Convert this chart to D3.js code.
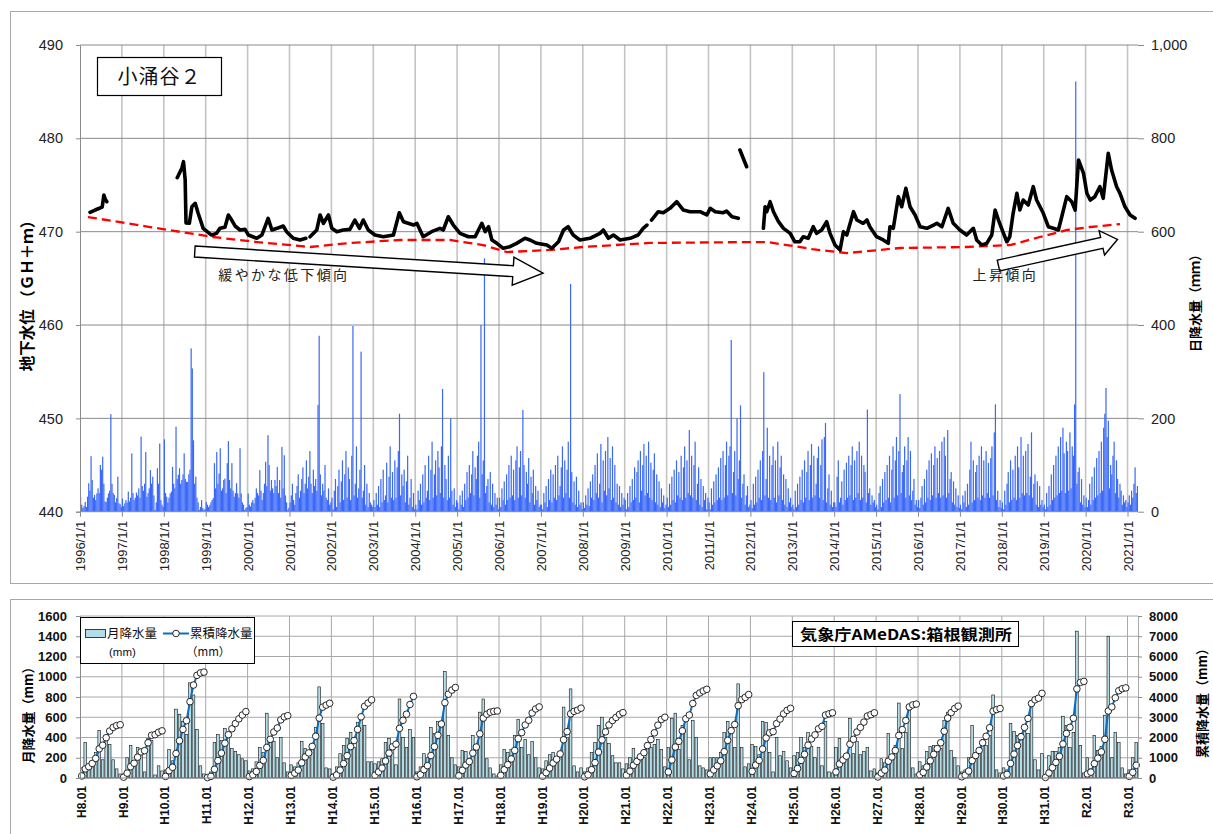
<!DOCTYPE html>
<html lang="ja">
<head>
<meta charset="utf-8">
<script src="https://cdn.jsdelivr.net/npm/d3@7"></script>
<style>
html, body { margin: 0; padding: 0; background: #fff; }
svg { display: block; font-family: "Liberation Sans", Arial, "Noto Sans CJK JP", sans-serif; }
.cjk { font-family: "Noto Sans CJK JP", "Liberation Sans", sans-serif; }
</style>
</head>
<body>
<svg id="chart" width="1213" height="834"></svg>
<script>
// ---------- groundwater level at 小涌谷２ (decimal year, GH+m); null = no record ----------
const groundwaterLevel = [
  [1996.24,472.07],[1996.36,472.32],[1996.48,472.54],[1996.53,472.64],[1996.57,473.93],[1996.60,473.50],[1996.64,473.21],
  [1997.00,null],
  [1998.32,475.78],[1998.43,476.79],[1998.47,477.50],[1998.51,475.54],[1998.53,470.93],[1998.61,470.90],[1998.67,472.67],
  [1998.75,473.04],[1998.82,471.97],[1998.94,470.36],[1999.14,469.64],[1999.26,469.82],[1999.34,470.36],[1999.46,470.47],
  [1999.54,471.79],[1999.62,471.25],[1999.70,470.61],[1999.82,470.18],[1999.94,470.25],[2000.02,469.64],[2000.22,469.29],
  [2000.34,469.64],[2000.49,471.43],[2000.58,470.18],[2000.70,470.36],[2000.85,470.61],[2000.93,470.00],[2001.09,469.29],
  [2001.25,469.11],[2001.39,469.29],
  [2001.44,null],
  [2001.49,469.46],[2001.65,470.18],[2001.73,471.79],[2001.81,470.90],[2001.93,471.79],[2002.01,470.36],[2002.13,470.00],
  [2002.28,470.18],[2002.44,470.25],[2002.56,471.25],[2002.67,470.36],[2002.76,471.25],[2002.88,470.18],[2003.04,469.64],
  [2003.24,469.46],[2003.48,469.64],[2003.62,472.03],[2003.72,471.07],[2003.96,470.71],[2004.04,470.90],[2004.19,469.46],
  [2004.39,470.00],[2004.59,470.36],[2004.67,470.18],[2004.79,471.60],[2004.91,470.71],[2005.07,469.82],[2005.27,469.46],
  [2005.43,469.46],[2005.59,470.90],[2005.67,470.00],[2005.75,470.53],[2005.83,469.11],[2005.95,468.75],[2006.10,468.22],
  [2006.26,468.39],[2006.42,468.75],[2006.62,469.29],[2006.74,469.11],[2006.90,468.75],[2007.14,468.57],[2007.26,468.22],
  [2007.42,468.92],[2007.54,470.18],[2007.65,470.53],[2007.77,469.64],[2007.93,469.11],[2008.17,469.29],[2008.41,469.82],
  [2008.49,470.18],[2008.61,469.29],[2008.73,469.64],[2008.89,469.11],[2009.13,469.29],[2009.32,469.64],[2009.44,470.36],
  [2009.53,470.71],
  [2009.58,null],
  [2009.64,471.25],[2009.80,472.14],[2009.92,472.03],[2010.08,472.50],[2010.24,473.21],[2010.40,472.32],[2010.56,472.14],
  [2010.80,472.14],[2010.96,471.79],[2011.04,472.50],[2011.16,472.14],[2011.35,472.03],[2011.43,472.21],[2011.56,471.60],
  [2011.71,471.43],
  [2011.73,null],
  [2011.75,478.75],[2011.91,476.96],
  [2012.10,null],
  [2012.31,470.36],[2012.35,472.67],[2012.39,472.14],[2012.47,473.21],[2012.55,472.14],[2012.67,471.07],[2012.79,470.36],
  [2012.95,469.82],[2013.06,468.92],[2013.18,468.92],[2013.26,469.46],[2013.38,469.29],[2013.50,470.53],[2013.58,469.82],
  [2013.70,470.18],[2013.82,471.07],[2013.90,469.82],[2014.02,468.57],[2014.14,468.04],[2014.22,470.00],[2014.30,469.64],
  [2014.46,472.14],[2014.54,471.25],[2014.69,470.90],[2014.78,471.25],[2014.85,470.53],[2015.01,469.46],[2015.17,469.11],
  [2015.29,468.75],[2015.33,470.53],[2015.41,470.36],[2015.53,473.75],[2015.61,472.67],[2015.71,474.65],[2015.81,472.67],
  [2015.93,471.79],[2016.05,470.53],[2016.21,470.36],[2016.37,470.71],[2016.45,470.90],[2016.57,470.53],[2016.72,472.50],
  [2016.84,470.90],[2017.00,470.18],[2017.16,469.64],[2017.32,470.36],[2017.40,469.11],[2017.52,468.57],[2017.64,468.75],
  [2017.76,469.64],[2017.84,472.32],[2017.92,471.25],[2018.04,469.82],[2018.12,468.92],[2018.19,469.46],[2018.27,471.97],
  [2018.36,474.11],[2018.43,472.32],[2018.51,473.39],[2018.63,472.86],[2018.75,474.82],[2018.83,473.39],[2018.99,471.97],
  [2019.11,470.53],[2019.23,470.36],[2019.35,470.18],[2019.43,471.60],[2019.55,473.75],[2019.67,473.21],[2019.75,472.32],
  [2019.83,477.68],[2019.95,476.25],[2020.03,474.11],[2020.11,473.39],[2020.22,473.75],[2020.34,474.82],[2020.42,473.57],
  [2020.54,478.40],[2020.62,476.61],[2020.74,474.82],[2020.82,474.11],[2020.94,472.67],[2021.06,471.79],[2021.18,471.43]
];

// ---------- long-term trend of the groundwater level (decimal year, GH+m) ----------
const trendLevel = [
  [1996.19,471.57],[1997.67,470.50],[1999.17,469.43],[2000.22,468.89],[2001.49,468.36],[2002.44,468.79],[2003.64,469.11],
  [2004.83,469.11],[2005.62,468.57],[2006.19,467.82],[2007.22,468.04],[2008.01,468.36],[2009.59,468.79],[2011.99,468.89],
  [2012.40,468.89],[2012.87,468.57],[2013.47,468.14],[2014.07,467.82],[2014.31,467.71],[2015.57,468.25],[2017.17,468.36],
  [2018.20,468.57],[2018.91,469.43],[2019.56,470.18],[2020.11,470.50],[2020.82,470.82]
];

// ---------- daily rainfall, largest day of each ten-day period from 1996 Jan (mm) ----------
const dailyRainStart = 1996;
const dailyRainPerYear = 36;
const dailyRain = [
  32,15,8,12,21,10,32,61,45,119,68,30,36,25,39,50,40,100,90,118,60,22,21,30,39,45,209,60,40,36,20,29,75,18,16,10,
  28,12,18,25,20,43,22,30,125,40,25,30,41,35,50,30,161,55,45,60,128,32,40,50,89,60,75,35,4,20,93,60,146,25,15,10,
  155,40,32,20,30,39,43,96,60,50,182,70,79,93,60,68,80,125,70,64,64,80,90,350,307,153,60,75,30,20,4,10,25,8,4,6,
  21,15,10,14,20,25,29,104,50,128,60,82,136,45,50,68,71,40,104,151,68,50,104,45,32,40,61,39,30,136,39,20,15,4,8,10,
  39,15,11,20,25,18,30,50,40,35,89,45,25,40,60,107,55,164,100,45,68,50,40,68,55,96,40,68,30,139,50,121,35,20,4,8,
  20,35,60,25,15,40,55,80,30,45,70,95,40,60,110,50,75,130,60,40,90,55,70,45,229,377,80,35,60,45,100,30,25,50,15,20,
  30,5,45,70,10,55,90,20,65,110,25,80,130,30,95,70,25,120,398,35,60,140,30,50,90,343,30,45,100,15,60,10,40,20,15,10,
  25,10,40,15,55,10,70,20,90,25,35,105,20,75,140,30,85,25,110,30,95,130,210,35,80,55,90,20,65,120,15,30,70,10,40,5,
  15,5,45,25,60,15,80,20,100,30,45,120,25,90,150,30,80,110,35,130,95,40,140,263,30,100,70,25,120,30,200,45,15,50,10,25,
  20,5,35,15,45,10,60,25,85,30,100,40,80,130,35,95,70,120,150,30,400,80,110,543,40,55,70,20,85,15,60,10,40,15,30,5,
  30,10,50,25,65,15,80,25,100,30,120,35,90,25,110,140,30,95,130,35,218,100,30,85,60,115,20,75,40,90,15,55,25,45,10,15,
  15,5,40,20,55,10,70,25,90,20,80,30,100,25,120,35,55,95,140,30,110,40,90,150,30,488,85,20,65,15,75,10,45,15,20,5,
  20,8,35,15,50,12,65,30,80,25,100,40,125,30,60,145,20,110,45,130,35,160,50,115,25,140,30,100,20,60,15,55,10,40,15,30,
  25,5,40,10,55,20,70,25,95,30,85,110,20,130,45,100,145,35,120,40,150,30,105,25,90,125,20,80,15,65,10,50,20,35,8,15,
  30,10,60,15,75,25,90,20,110,35,85,30,120,25,95,140,30,110,40,175,35,120,30,100,150,25,60,95,15,70,10,55,25,40,5,30,
  20,5,50,15,65,20,80,25,95,30,115,25,130,30,100,150,35,120,140,368,40,85,130,35,200,70,110,228,30,60,80,15,35,55,10,15,
  25,8,60,15,75,20,90,30,110,25,130,299,35,70,180,30,120,25,100,140,30,110,20,150,35,95,120,25,80,15,70,10,50,20,30,10,
  15,5,45,10,60,15,75,25,90,20,110,30,85,130,25,100,145,30,120,35,60,115,140,30,100,155,25,160,190,20,50,80,15,45,10,20,
  20,10,75,110,20,30,65,15,90,25,105,30,120,35,100,140,25,110,30,130,40,150,25,120,30,100,85,20,219,40,50,15,35,20,25,10,
  15,5,40,55,10,70,20,85,25,100,30,120,20,90,140,30,110,160,35,130,252,40,85,100,140,30,110,160,35,130,25,45,70,15,25,10,
  25,8,30,55,15,70,20,90,30,110,25,125,35,100,140,30,115,40,130,30,150,35,160,120,30,175,40,70,85,20,65,15,50,10,35,8,
  15,5,35,20,45,10,60,15,90,150,20,110,25,85,100,30,120,25,140,35,110,30,130,40,105,30,115,140,35,170,230,25,45,10,25,8,
  20,5,45,15,60,85,20,110,25,90,30,120,25,140,95,30,160,40,120,35,130,40,145,35,75,170,30,60,80,15,65,10,55,15,25,10,
  15,5,40,10,55,15,80,25,100,30,120,35,140,40,160,45,180,125,40,150,130,45,170,50,140,120,230,922,60,85,95,20,70,15,35,10,
  30,10,25,60,15,75,25,95,30,115,35,130,40,150,45,180,210,265,160,195,50,100,80,120,150,40,110,70,30,60,45,15,35,20,25,10,
  20,35,15,45,30,60,95,40,55
];

// ---------- monthly rainfall at AMeDAS 箱根 from H8.01 (mm) ----------
const monthlyRain = [
  100,350,110,160,250,470,180,370,330,180,90,40,      // H8
  40,200,320,170,300,260,60,390,370,30,120,70,        // H9
  80,280,170,680,630,560,430,940,820,480,120,40,      // H10
  20,60,350,430,370,490,420,290,260,230,190,170,      // H11
  70,90,160,300,250,640,400,360,200,400,150,60,       // H12
  130,110,150,360,290,200,320,500,900,540,100,90,     // H13
  40,110,240,320,390,450,300,550,620,520,160,160,     // H14
  140,160,190,350,390,310,130,780,400,300,480,400,    // H15
  60,110,240,200,500,440,560,560,1050,420,200,130,    // H16
  110,270,260,170,420,300,650,780,190,100,40,20,      // H17
  130,280,250,280,420,580,300,380,230,360,200,100,    // H18
  90,170,230,250,190,260,700,400,880,120,60,100,      // H19
  60,100,250,350,520,600,400,340,220,150,150,90,      // H20
  140,200,290,190,230,200,350,300,330,380,280,110,    // H21
  300,590,640,280,520,600,180,570,400,120,100,80,     // H22
  200,200,200,250,450,560,480,300,930,300,110,140,    // H23
  330,310,230,560,550,250,60,400,220,260,170,100,     // H24
  220,250,400,300,450,310,200,300,120,560,60,50,      // H25
  300,390,200,190,590,240,360,230,260,300,70,90,      // H26
  50,190,150,440,210,320,740,290,450,670,100,40,      // H27
  160,120,260,310,320,280,290,570,650,270,200,120,    // H28
  60,80,200,520,250,250,380,320,420,820,80,50,        // H29
  100,80,540,460,420,440,460,440,740,180,80,240,      // H30
  30,220,260,260,300,610,520,300,450,1450,320,50,     // H31/R1
  200,90,420,270,310,620,1400,200,450,350,100,40,     // R2
  80,200,350                                          // R3
];

// ---------- axis ticks and labels ----------
const levelTicks = [440, 450, 460, 470, 480, 490];
const dailyTicks = [0, 200, 400, 600, 800, 1000];
const yearTicks = d3.range(1996, 2022);
const monthlyTicks = [0, 200, 400, 600, 800, 1000, 1200, 1400, 1600];
const cumulativeTicks = [0, 1000, 2000, 3000, 4000, 5000, 6000, 7000, 8000];
const eraLabels = ["H8.01","H9.01","H10.01","H11.01","H12.01","H13.01","H14.01","H15.01","H16.01","H17.01",
  "H18.01","H19.01","H20.01","H21.01","H22.01","H23.01","H24.01","H25.01","H26.01","H27.01","H28.01",
  "H29.01","H30.01","H31.01","R2.01","R3.01"];

// trend annotations: [tail year, tail level, tip year, tip level]
const fallArrow = [1998.74, 467.87, 2007.05, 465.57];
const riseArrow = [2017.92, 466.37, 2020.76, 469.17];

const svg = d3.select("#chart");
svg.append("rect").attr("width", 1213).attr("height", 834).attr("fill", "#fff");

// panel frames
svg.append("rect").attr("x", 10.5).attr("y", 11.5).attr("width", 1230).attr("height", 572)
  .attr("fill", "none").attr("stroke", "#a9a9a9");
svg.append("rect").attr("x", 10.5).attr("y", 599.5).attr("width", 1230).attr("height", 300)
  .attr("fill", "none").attr("stroke", "#a9a9a9");

// ================= upper panel: groundwater level and daily rainfall =================
const upper = { left: 80, right: 1138, top: 45, bottom: 511.7 };
const x = d3.scaleLinear().domain([1996, 2021.25]).range([upper.left, upper.right]);
const yLevel = d3.scaleLinear().domain([440, 490]).range([upper.bottom, upper.top]);
const yDaily = d3.scaleLinear().domain([0, 1000]).range([upper.bottom, upper.top]);

const gTop = svg.append("g");

// grid
gTop.append("g").selectAll("line").data(yearTicks.slice(1)).join("line")
  .attr("x1", d => x(d)).attr("x2", d => x(d)).attr("y1", upper.top).attr("y2", upper.bottom)
  .attr("stroke", "#c4c4c4").attr("stroke-width", 1.6);
gTop.append("g").selectAll("line").data(levelTicks.slice(1)).join("line")
  .attr("x1", upper.left).attr("x2", upper.right).attr("y1", d => yLevel(d)).attr("y2", d => yLevel(d))
  .attr("stroke", "#8a8a8a").attr("stroke-width", 1);

// daily rainfall
gTop.append("g").selectAll("rect").data(dailyRain).join("rect")
  .attr("x", (d, i) => x(dailyRainStart + (i + 0.5) / dailyRainPerYear) - 0.6)
  .attr("width", 1.2)
  .attr("y", d => yDaily(d))
  .attr("height", d => yDaily(0) - yDaily(d))
  .attr("fill", "#3a68f8");

// axes
const axisLeft = gTop.append("g").attr("transform", `translate(${upper.left},0)`)
  .call(d3.axisLeft(yLevel).tickValues(levelTicks).tickSize(4).tickPadding(13));
axisLeft.select(".domain").attr("stroke", "#8a8a8a");
axisLeft.selectAll(".tick line").attr("stroke", "#8a8a8a");
axisLeft.selectAll("text").attr("font-size", 14.5).attr("fill", "#222");

const axisRight = gTop.append("g").attr("transform", `translate(${upper.right},0)`)
  .call(d3.axisRight(yDaily).tickValues(dailyTicks).tickSize(6).tickPadding(7).tickFormat(d3.format(",")));
axisRight.select(".domain").remove();
axisRight.selectAll(".tick line").attr("stroke", "#8a8a8a");
axisRight.selectAll("text").attr("font-size", 14.5).attr("fill", "#222");

const axisBottom = gTop.append("g").attr("transform", `translate(0,${upper.bottom})`)
  .call(d3.axisBottom(x).tickValues(yearTicks).tickSize(5).tickFormat(d => `${d}/1/1`));
axisBottom.select(".domain").attr("stroke", "#8a8a8a").attr("d", `M${upper.left},0H${upper.right}`);
axisBottom.selectAll(".tick line").attr("stroke", "#8a8a8a");
axisBottom.selectAll("text")
  .attr("font-size", 13).attr("fill", "#222")
  .attr("transform", "rotate(-90)").attr("text-anchor", "end")
  .attr("x", -9).attr("y", 0).attr("dy", "0.35em");

// trend line
gTop.append("path").datum(trendLevel)
  .attr("d", d3.line().x(d => x(d[0])).y(d => yLevel(d[1])))
  .attr("fill", "none").attr("stroke", "#ff0000").attr("stroke-width", 2.3)
  .attr("stroke-dasharray", "9,5");

// groundwater level
gTop.append("path").datum(groundwaterLevel)
  .attr("d", d3.line().defined(d => d[1] != null).x(d => x(d[0])).y(d => yLevel(d[1])))
  .attr("fill", "none").attr("stroke", "#000").attr("stroke-width", 3.6)
  .attr("stroke-linejoin", "round").attr("stroke-linecap", "round");

// block arrows for the trend notes
function blockArrow(x0, y0, x1, y1, shaft, head, headLen) {
  const dx = x1 - x0, dy = y1 - y0, len = Math.hypot(dx, dy);
  const ux = dx / len, uy = dy / len, nx = -uy, ny = ux;
  const bx = x1 - ux * headLen, by = y1 - uy * headLen;
  const off = (px, py, k) => [px + nx * k, py + ny * k];
  return [off(x0, y0, -shaft), off(bx, by, -shaft), off(bx, by, -head), [x1, y1],
          off(bx, by, head), off(bx, by, shaft), off(x0, y0, shaft)];
}
[[fallArrow, 30, 14], [riseArrow, 16, 12.5]].forEach(([a, hl, hw]) => {
  gTop.append("polygon")
    .attr("points", blockArrow(x(a[0]), yLevel(a[1]), x(a[2]), yLevel(a[3]), 5.5, hw, hl).join(" "))
    .attr("fill", "#fff").attr("stroke", "#000").attr("stroke-width", 1.4).attr("stroke-linejoin", "miter");
});
gTop.append("text").attr("class", "cjk").attr("x", x(1999.3)).attr("y", yLevel(464.8))
  .attr("font-size", 14).attr("letter-spacing", 2.4).attr("fill", "#222").text("緩やかな低下傾向");
gTop.append("text").attr("class", "cjk").attr("x", x(2017.3)).attr("y", yLevel(464.8))
  .attr("font-size", 14).attr("letter-spacing", 2.4).attr("fill", "#222").text("上昇傾向");

// station name box
gTop.append("rect").attr("x", 97.5).attr("y", 57.5).attr("width", 124).attr("height", 38)
  .attr("fill", "#fff").attr("stroke", "#000").attr("stroke-width", 1.2);
gTop.append("text").attr("class", "cjk").attr("x", 159.5).attr("y", 84)
  .attr("text-anchor", "middle").attr("font-size", 20).attr("letter-spacing", 1).attr("fill", "#111").text("小涌谷２");

// axis titles
gTop.append("text").attr("class", "cjk").attr("transform", "translate(33,292) rotate(-90)")
  .attr("text-anchor", "middle").attr("font-size", 15.5).attr("font-weight", "bold").attr("fill", "#000")
  .text("地下水位 （ＧＨ＋ｍ）");
gTop.append("text").attr("class", "cjk").attr("transform", "translate(1200,300) rotate(-90)")
  .attr("text-anchor", "middle").attr("font-size", 13).attr("font-weight", "bold").attr("fill", "#000")
  .text("日降水量（ｍｍ）");

// ================= lower panel: monthly and cumulative rainfall =================
const lower = { left: 80, right: 1138, top: 616, bottom: 778 };
const months = d3.range(monthlyRain.length);
const xb = d3.scaleBand().domain(months).range([lower.left, lower.right]).paddingInner(0.24).paddingOuter(0.12);
const yMonthly = d3.scaleLinear().domain([0, 1600]).range([lower.bottom, lower.top]);
const yCum = d3.scaleLinear().domain([0, 8000]).range([lower.bottom, lower.top]);
const gapHalf = xb.step() * xb.paddingInner() / 2;

// running total within each calendar year
const cumulative = [];
monthlyRain.forEach((v, i) => cumulative.push(i % 12 === 0 ? v : cumulative[i - 1] + v));

const gBot = svg.append("g");
gBot.append("g").selectAll("line").data(monthlyTicks.slice(1)).join("line")
  .attr("x1", lower.left).attr("x2", lower.right).attr("y1", d => yMonthly(d)).attr("y2", d => yMonthly(d))
  .attr("stroke", "#a8a8a8");
const yearStarts = months.filter(m => m % 12 === 0);
gBot.append("g").selectAll("line").data(yearStarts.slice(1)).join("line")
  .attr("x1", d => xb(d) - gapHalf).attr("x2", d => xb(d) - gapHalf)
  .attr("y1", lower.top).attr("y2", lower.bottom).attr("stroke", "#a8a8a8");

// monthly bars
gBot.append("g").selectAll("rect").data(monthlyRain).join("rect")
  .attr("x", (d, i) => xb(i)).attr("width", xb.bandwidth())
  .attr("y", d => yMonthly(d)).attr("height", d => yMonthly(0) - yMonthly(d))
  .attr("fill", "#b4dce6").attr("stroke", "#111").attr("stroke-width", 0.6);

// cumulative line, one run per year
const cumLine = d3.line().x(i => xb(i) + xb.bandwidth() / 2).y(i => yCum(cumulative[i]));
d3.groups(months, m => Math.floor(m / 12)).forEach(([, ms]) => {
  gBot.append("path").attr("d", cumLine(ms)).attr("fill", "none")
    .attr("stroke", "#0a6fc2").attr("stroke-width", 2);
});
gBot.append("g").selectAll("circle").data(months).join("circle")
  .attr("cx", i => xb(i) + xb.bandwidth() / 2).attr("cy", i => yCum(cumulative[i])).attr("r", 3.3)
  .attr("fill", "#fff").attr("stroke", "#111").attr("stroke-width", 0.9);

// axes
const bLeft = gBot.append("g").attr("transform", `translate(${lower.left},0)`)
  .call(d3.axisLeft(yMonthly).tickValues(monthlyTicks).tickSize(4).tickPadding(9).tickFormat(d3.format("d")));
bLeft.select(".domain").attr("stroke", "#8a8a8a");
bLeft.selectAll(".tick line").attr("stroke", "#8a8a8a");
bLeft.selectAll("text").attr("font-size", 13).attr("font-weight", "bold").attr("fill", "#111");

const bRight = gBot.append("g").attr("transform", `translate(${lower.right},0)`)
  .call(d3.axisRight(yCum).tickValues(cumulativeTicks).tickSize(4).tickPadding(7).tickFormat(d3.format("d")));
bRight.select(".domain").attr("stroke", "#a8a8a8");
bRight.selectAll(".tick line").attr("stroke", "#8a8a8a");
bRight.selectAll("text").attr("font-size", 13).attr("font-weight", "bold").attr("fill", "#111");

gBot.append("line").attr("x1", lower.left).attr("x2", lower.right).attr("y1", lower.bottom).attr("y2", lower.bottom)
  .attr("stroke", "#8a8a8a");
gBot.append("g").selectAll("text").data(yearStarts).join("text")
  .attr("transform", d => `translate(${xb(d) + 1},786) rotate(-90)`)
  .attr("text-anchor", "end").attr("dy", "0.35em")
  .attr("font-size", 12).attr("font-weight", "bold").attr("fill", "#111")
  .text((d, k) => eraLabels[k]);

// legend
const lg = gBot.append("g");
lg.append("rect").attr("x", 80.5).attr("y", 617.5).attr("width", 174).attr("height", 46)
  .attr("fill", "#fff").attr("stroke", "#000").attr("stroke-width", 1);
lg.append("rect").attr("x", 85.5).attr("y", 629.5).attr("width", 20).attr("height", 8)
  .attr("fill", "#b4dce6").attr("stroke", "#111").attr("stroke-width", 0.8);
lg.append("text").attr("class", "cjk").attr("x", 107).attr("y", 637.5).attr("font-size", 12.5).attr("fill", "#111").text("月降水量");
lg.append("text").attr("x", 109).attr("y", 656).attr("font-size", 11.5).attr("fill", "#111").text("(mm)");
lg.append("line").attr("x1", 163).attr("x2", 189).attr("y1", 633.5).attr("y2", 633.5)
  .attr("stroke", "#0a6fc2").attr("stroke-width", 2);
lg.append("circle").attr("cx", 176).attr("cy", 633.5).attr("r", 3.3)
  .attr("fill", "#fff").attr("stroke", "#111").attr("stroke-width", 0.9);
lg.append("text").attr("class", "cjk").attr("x", 190).attr("y", 637.5).attr("font-size", 12.5).attr("fill", "#111").text("累積降水量");
lg.append("text").attr("class", "cjk").attr("x", 186).attr("y", 656).attr("font-size", 11.5).attr("fill", "#111").text("（mm）");

// station box
gBot.append("rect").attr("x", 792.5).attr("y", 621.5).attr("width", 226).attr("height", 25)
  .attr("fill", "#fff").attr("stroke", "#000").attr("stroke-width", 1);
gBot.append("text").attr("class", "cjk").attr("x", 800).attr("y", 639.5)
  .attr("font-size", 15).attr("font-weight", "bold").attr("fill", "#000")
  .attr("textLength", 212).attr("lengthAdjust", "spacingAndGlyphs")
  .text("気象庁AMeDAS:箱根観測所");

// axis titles
gBot.append("text").attr("class", "cjk").attr("transform", "translate(33,712) rotate(-90)")
  .attr("text-anchor", "middle").attr("font-size", 13).attr("font-weight", "bold").attr("fill", "#000")
  .text("月降水量（mm）");
gBot.append("text").attr("class", "cjk").attr("transform", "translate(1207,700) rotate(-90)")
  .attr("text-anchor", "middle").attr("font-size", 13).attr("font-weight", "bold").attr("fill", "#000")
  .text("累積降水量（mm）");
</script>
</body>
</html>
